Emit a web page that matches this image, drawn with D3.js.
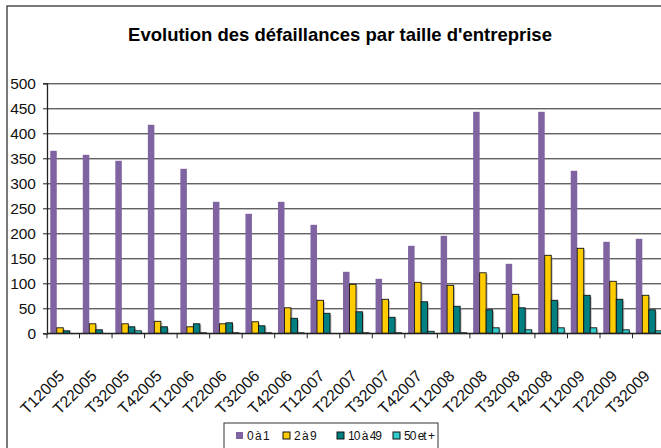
<!DOCTYPE html>
<html>
<head>
<meta charset="utf-8">
<script src="https://cdn.jsdelivr.net/npm/d3@7/dist/d3.min.js"></script>
<style>
  body { margin: 0; background: #fff; }
  text { font-family: "Liberation Sans", Arial, sans-serif; }
</style>
</head>
<body>
<div id="chart"></div>
<script>
// trimestres
var categories = ['T12005', 'T22005', 'T32005', 'T42005', 'T12006', 'T22006', 'T32006', 'T42006',
    'T12007', 'T22007', 'T32007', 'T42007', 'T12008', 'T22008', 'T32008', 'T42008',
    'T12009', 'T22009', 'T32009']
var seriesNames = ['0 à 1', '2 à 9', '10 à 49', '50 et +']
// valeurs
var v0a1 = [365, 357, 345, 417, 329, 263, 239, 263, 217, 123, 109, 175, 195, 443, 139, 443, 325, 183, 189]
var v2a9 = [11, 19, 19, 24, 13, 19, 23, 51, 66, 98, 68, 102, 96, 121, 78, 156, 170, 104, 76]
var v10a49 = [5, 7, 13, 13, 19, 21, 15, 30, 40, 43, 32, 63, 54, 47, 51, 66, 76, 68, 47]
var v50plus = [0, 0, 5, 0, 1, 1, 1, 1, 0, 1, 1, 4, 1, 11, 7, 11, 11, 7, 5]
var yTicks = [0, 50, 100, 150, 200, 250, 300, 350, 400, 450, 500]

var colors = ['#8064A2', '#FFCC00', '#008080', '#33CCCC']
var allValues = [v0a1, v2a9, v10a49, v50plus]

var width = 661, height = 448
var plotLeft = 47, plotTop = 83.3, plotBottom = 333.3
var catWidth = 32.53

var svg = d3.select('#chart').append('svg')
    .attr('width', width)
    .attr('height', height)

// cadre du graphique
svg.append('rect')
    .attr('x', 7).attr('y', 6)
    .attr('width', width + 10).attr('height', height + 10)
    .attr('fill', '#fff').attr('stroke', '#222').attr('stroke-width', 1.2)

svg.append('text')
    .attr('x', 340).attr('y', 41)
    .attr('text-anchor', 'middle')
    .style('font-size', '18.5px').style('font-weight', 'bold')
    .text("Evolution des défaillances par taille d'entreprise")

var x = d3.scaleBand()
    .domain(categories)
    .range([plotLeft, plotLeft + categories.length * catWidth])
    .padding(0)

var xSub = d3.scaleBand()
    .domain(seriesNames)
    .range([x.bandwidth() * 0.1, x.bandwidth() * 0.9])

var y = d3.scaleLinear()
    .domain([0, 500])
    .range([plotBottom, plotTop])

// lignes de quadrillage
svg.append('g')
    .attr('transform', 'translate(' + plotLeft + ',0)')
    .call(d3.axisLeft(y).tickValues(yTicks).tickSize(-(width - plotLeft)).tickFormat(''))
    .call(g => g.select('.domain').remove())
    .selectAll('line').attr('stroke', '#222')

// barres
var groups = svg.selectAll('.cat')
    .data(categories)
    .enter()
    .append('g')
    .attr('transform', function (d) { return 'translate(' + x(d) + ',0)' })

seriesNames.forEach(function (s, si) {
    var bw = xSub.bandwidth()
    if (si > 0) {
        // ombre
        groups.append('rect')
            .attr('x', xSub(s) + 1.5)
            .attr('y', function (d, i) { return y(allValues[si][i]) + 1.5 })
            .attr('width', bw)
            .attr('height', function (d, i) { return Math.max(0, plotBottom - y(allValues[si][i]) - 1.5) })
            .attr('fill', '#999')
            .attr('opacity', 0.6)
    }
    groups.append('rect')
        .attr('x', xSub(s))
        .attr('y', function (d, i) { return y(allValues[si][i]) })
        .attr('width', bw)
        .attr('height', function (d, i) { return plotBottom - y(allValues[si][i]) })
        .attr('fill', colors[si])
        .attr('stroke', si > 0 ? '#111' : 'none')
        .attr('stroke-width', 0.9)
})

// axe Y
var yAxis = svg.append('g')
    .attr('transform', 'translate(' + plotLeft + ',0)')
    .call(d3.axisLeft(y).tickValues(yTicks).tickSize(4).tickPadding(7))
yAxis.select('.domain').attr('stroke', '#222').attr('stroke-width', 1.3)
yAxis.selectAll('line').attr('stroke', '#222')
yAxis.selectAll('text').style('font-size', '15.5px').attr('fill', '#111').attr('font-family', null)

// axe X
svg.append('line')
    .attr('x1', plotLeft).attr('x2', width)
    .attr('y1', plotBottom).attr('y2', plotBottom)
    .attr('stroke', '#222').attr('stroke-width', 1.3)

svg.selectAll('.xtick')
    .data(categories)
    .enter()
    .append('line')
    .attr('x1', function (d) { return x(d) })
    .attr('x2', function (d) { return x(d) })
    .attr('y1', plotBottom).attr('y2', plotBottom + 5)
    .attr('stroke', '#222')

svg.selectAll('.xlabel')
    .data(categories)
    .enter()
    .append('text')
    .attr('text-anchor', 'end')
    .attr('transform', function (d) {
        return 'translate(' + (x(d) + x.bandwidth() / 2 + 2) + ',' + 377 + ') rotate(-45)'
    })
    .style('font-size', '16px')
    .attr('fill', '#111')
    .text(function (d) { return d })

// légende
var legend = svg.append('g')
legend.append('rect')
    .attr('x', 224).attr('y', 423)
    .attr('width', 214).attr('height', 40)
    .attr('fill', '#fff').attr('stroke', '#333')

var legendX = [236, 283, 337, 393]
seriesNames.forEach(function (s, i) {
    legend.append('rect')
        .attr('x', legendX[i]).attr('y', 432)
        .attr('width', 7).attr('height', 7)
        .attr('fill', colors[i])
        .attr('stroke', i > 0 ? '#111' : 'none')
    legend.append('text')
        .attr('x', legendX[i] + 11).attr('y', 440)
        .style('font-size', '12px')
        .style('letter-spacing', '-1px')
        .attr('fill', '#111')
        .text(s)
})
</script>
</body>
</html>
